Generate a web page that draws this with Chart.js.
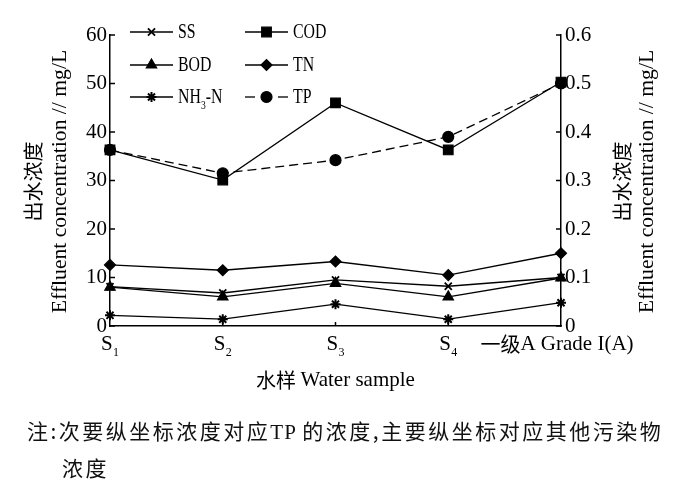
<!DOCTYPE html>
<html>
<head>
<meta charset="utf-8">
<script src="https://cdn.jsdelivr.net/npm/chart.js@4.4.1/dist/chart.umd.min.js"></script>
<style>
  html,body{margin:0;padding:0;background:#fff;}
  #wrap{position:relative;width:683px;height:487px;}
  .note{position:absolute;font-family:"Noto Sans CJK SC","Liberation Serif",serif;font-size:21px;letter-spacing:2.5px;color:#111;line-height:26px;white-space:nowrap;}
  .note .lat{font-family:"Liberation Serif",serif;letter-spacing:1px;}
</style>
</head>
<body>
<div id="wrap">
  <canvas id="c"></canvas>
  <div class="note" style="left:27px;top:417px;">注:次要纵坐标浓度对应<span class="lat">TP </span>的浓度,主要纵坐标对应其他污染物</div>
  <div class="note" style="left:62px;top:454px;">浓度</div>
</div>
<script>
// ---- data ----
const categories = ['S1', 'S2', 'S3', 'S4', '一级A Grade I(A)'];
const ss   = [8.1, 6.8, 9.5, 8.2, 10.0];
const cod  = [36.3, 30.1, 46.0, 36.3, 50.3];
const bod  = [8.0, 6.0, 8.8, 6.0, 9.9];
const tn   = [12.6, 11.5, 13.3, 10.5, 15.0];
const nh3n = [2.2, 1.4, 4.5, 1.4, 4.8];
const tp   = [0.363, 0.315, 0.342, 0.39, 0.50];
const yTickLabels  = ['0', '10', '20', '30', '40', '50', '60'];
const y1TickLabels = ['0', '0.1', '0.2', '0.3', '0.4', '0.5', '0.6'];
const seriesNames = ['SS', 'COD', 'BOD', 'TN', 'NH3-N', 'TP'];

const LAT = '"Liberation Serif", serif';
const CJK = '"Noto Sans CJK SC", sans-serif';

Chart.defaults.font.family = LAT;
Chart.defaults.font.size = 21;
Chart.defaults.color = '#000';

function ds(label, data, style, radius, extra) {
  return Object.assign({
    label, data, yAxisID: 'y',
    borderColor: '#000', backgroundColor: '#000', borderWidth: 1.3,
    pointStyle: style, pointRadius: radius, pointHoverRadius: radius,
    pointBorderColor: '#000', pointBackgroundColor: '#000', pointBorderWidth: 1.2,
    tension: 0, fill: false, clip: false
  }, extra || {});
}

const datasets = [
  ds(seriesNames[0], ss, 'crossRot', 5, {pointBorderWidth: 1.8}),
  ds(seriesNames[1], cod, 'rect', 6.8),
  ds(seriesNames[2], bod, 'triangle', 6),
  ds(seriesNames[3], tn, 'rectRot', 5.5),
  ds(seriesNames[4], nh3n, 'star', 5, {pointBorderWidth: 2}),
  ds(seriesNames[5], tp, 'circle', 5.5, {yAxisID: 'y1', borderDash: [9, 5]})
];

function line(ctx, x1, y1, x2, y2) { ctx.beginPath(); ctx.moveTo(x1, y1); ctx.lineTo(x2, y2); ctx.stroke(); }

function textScaled(ctx, s, x, y, font, sx, align) {
  ctx.save();
  ctx.font = font;
  ctx.textBaseline = 'middle';
  ctx.textAlign = 'left';
  const w = ctx.measureText(s).width * sx;
  let x0 = x;
  if (align === 'center') x0 = x - w / 2;
  if (align === 'right') x0 = x - w;
  ctx.translate(x0, y);
  ctx.scale(sx, 1);
  ctx.fillText(s, 0, 0);
  ctx.restore();
  return w;
}

const deco = {
  id: 'deco',
  afterDraw(chart) {
    const ctx = chart.ctx, a = chart.chartArea;
    const xs = chart.scales.x, ys = chart.scales.y, y1 = chart.scales.y1;
    ctx.save();
    ctx.strokeStyle = '#000'; ctx.fillStyle = '#000'; ctx.lineWidth = 1.5;
    // inward tick marks
    ys.ticks.forEach(t => { const py = ys.getPixelForValue(t.value); line(ctx, a.left, py, a.left + 5, py); });
    y1.ticks.forEach(t => { const py = y1.getPixelForValue(t.value); line(ctx, a.right - 5, py, a.right, py); });
    categories.forEach((c, i) => {
      if (i > 0 && i < categories.length - 1) {
        const px = xs.getPixelForValue(i);
        line(ctx, px, a.bottom, px, a.bottom - 4);
      }
    });
    // x labels
    const ly = a.bottom + 18;
    categories.forEach((c, i) => {
      const px = xs.getPixelForValue(i);
      const m = c.match(/^S(\d)$/);
      if (m) {
        textScaled(ctx, 'S', px - 9, ly, '21px ' + LAT, 1, 'left');
        textScaled(ctx, m[1], px + 3, ly + 9, '12px ' + LAT, 1, 'left');
      } else {
        const cjk = c.match(/^[^A-Za-z]+/)[0];
        const rest = c.slice(cjk.length);
        ctx.font = '20px ' + CJK; const w1 = ctx.measureText(cjk).width;
        ctx.font = '21px ' + LAT; const w2 = ctx.measureText(rest).width;
        const x0 = px - 4 - (w1 + w2) / 2;
        textScaled(ctx, cjk, x0, ly, '20px ' + CJK, 1, 'left');
        textScaled(ctx, rest, x0 + w1, ly, '21px ' + LAT, 1, 'left');
      }
    });
    // x title
    {
      const cx = (a.left + a.right) / 2, ty = 380;
      ctx.font = '20px ' + CJK; const w1 = ctx.measureText('水样 ').width;
      ctx.font = '21px ' + LAT; const w2 = ctx.measureText('Water sample').width;
      const x0 = cx - (w1 + w2) / 2;
      textScaled(ctx, '水样', x0, ty, '20px ' + CJK, 1, 'left');
      textScaled(ctx, 'Water sample', x0 + w1, ty, '21px ' + LAT, 1, 'left');
    }
    // y titles
    const cy = (a.top + a.bottom) / 2 + 1;
    [[33, 60], [622, 647]].forEach(([xc, xe]) => {
      ctx.save(); ctx.translate(xc, cy); ctx.rotate(-Math.PI / 2);
      textScaled(ctx, '出水浓度', 0, 0, '20px ' + CJK, 1, 'center');
      ctx.restore();
      ctx.save(); ctx.translate(xe, cy); ctx.rotate(-Math.PI / 2);
      textScaled(ctx, 'Effluent concentration // mg/L', 0, 0, '21px ' + LAT, 1.03, 'center');
      ctx.restore();
    });
    // legend
    const cols = [130, 245], rows = [32, 65, 97];
    const order = [[0, 0, 0], [1, 1, 0], [2, 0, 1], [3, 1, 1], [4, 0, 2], [5, 1, 2]];
    order.forEach(([di, col, row]) => {
      const d = chart.data.datasets[di];
      const x1 = cols[col], x2 = x1 + 43, y = rows[row], xm = (x1 + x2) / 2;
      ctx.save();
      ctx.lineWidth = 1.3;
      if (d.borderDash) {
        line(ctx, x1, y, x1 + 10, y);
        line(ctx, x2 - 10, y, x2, y);
      } else {
        line(ctx, x1, y, x2, y);
      }
      ctx.lineWidth = d.pointBorderWidth;
      Chart.helpers.drawPoint(ctx, {pointStyle: d.pointStyle, radius: d.pointRadius, rotation: 0, borderWidth: d.pointBorderWidth}, xm, y);
      ctx.restore();
      const tx = x2 + 5;
      const name = d.label;
      const font = '22px ' + LAT;
      if (name === 'NH3-N') {
        let w = textScaled(ctx, 'NH', tx, y, font, 0.72, 'left');
        w += textScaled(ctx, '3', tx + w, y + 9, '12px ' + LAT, 0.8, 'left');
        textScaled(ctx, '-N', tx + w, y, font, 0.72, 'left');
      } else {
        textScaled(ctx, name, tx, y, font, 0.72, 'left');
      }
    });
    ctx.restore();
  }
};

new Chart(document.getElementById('c'), {
  type: 'line',
  data: { labels: categories, datasets },
  options: {
    responsive: true, maintainAspectRatio: false, animation: false,
    layout: { padding: { top: 35, left: 0, right: 0, bottom: 0 } },
    plugins: { legend: { display: false }, title: { display: false }, tooltip: { enabled: false } },
    scales: {
      x: {
        type: 'category', offset: false,
        grid: { display: false, drawTicks: false },
        border: { display: true, color: '#000', width: 1.5 },
        ticks: { display: false },
        afterFit(s) { s.height = 161; }
      },
      y: {
        position: 'left', min: 0, max: 60,
        grid: { display: false, drawTicks: false },
        border: { display: true, color: '#000', width: 1.5 },
        ticks: { stepSize: 10, padding: 3, color: '#000', callback: (v, i) => yTickLabels[i] },
        afterFit(s) { s.width = 110; }
      },
      y1: {
        position: 'right', min: 0, max: 0.6,
        grid: { display: false, drawTicks: false },
        border: { display: true, color: '#000', width: 1.5 },
        ticks: { stepSize: 0.1, padding: 4, color: '#000', callback: (v, i) => y1TickLabels[i] },
        afterFit(s) { s.width = 122; }
      }
    }
  },
  plugins: [deco]
});
</script>
</body>
</html>
